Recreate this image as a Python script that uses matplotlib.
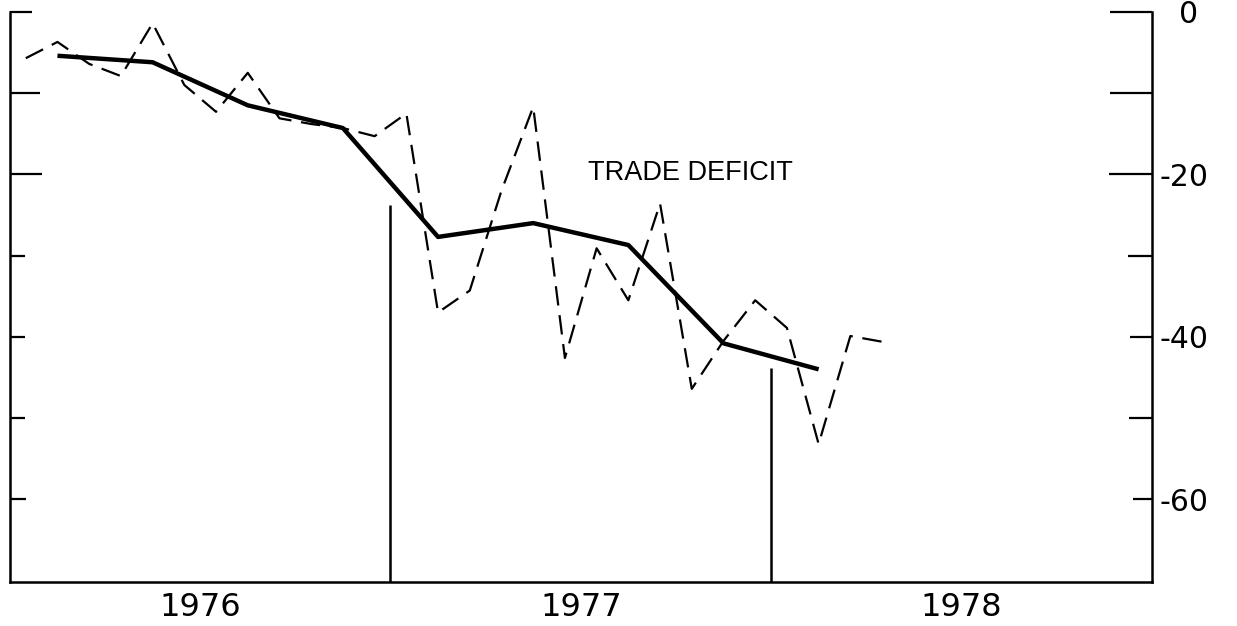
import numpy as np
import matplotlib
matplotlib.use('Agg')
import matplotlib.pyplot as plt

plt.rcParams['font.family'] = ['Liberation Sans', 'DejaVu Sans']
plt.rcParams['lines.scale_dashes'] = False

# monthly trade balance (dashed), Jan 1976 .. Apr 1978, billions
monthly_vals = [-5.7, -3.7, -6.4, -7.9, -1.4, -9.0, -12.3, -7.5, -13.1, -13.8, -14.3, -15.3,
                -12.5, -37.0, -34.3, -22.0, -11.7, -42.6, -29.1, -35.5, -23.6, -46.4, -40.5, -35.5,
                -38.9, -53.2, -39.9, -40.6]
# quarterly average (solid), plotted at mid-quarter month index
quarter_months = [1, 4, 7, 10, 13, 16, 19, 22, 25]
quarter_vals = [-5.4, -6.2, -11.5, -14.3, -27.7, -26.0, -28.7, -40.8, -44.0]

year_labels = ['1976', '1977', '1978']
ytick_vals = [0, -10, -20, -30, -40, -50, -60]
ytick_text = ['  0', '', '-20', '', '-40', '', '-60']

# vertical markers at year boundaries
marker_years = [1977, 1978]
marker_tops = [-23.8, -43.8]

# hand-drawn tick lengths (points), left and right side
left_len = [16, 21.5, 23, 11, 11, 11, 11.5]
right_len = [30, 30, 31, 17, 16, 16.5, 14]

month_x = 1976 + (np.arange(len(monthly_vals)) + 0.5) / 12
quarter_x = 1976 + (np.array(quarter_months) + 0.5) / 12

fig = plt.figure(figsize=(12.37, 6.26), dpi=100)
ax = fig.add_axes([0.008, 0.070, 0.923, 0.911])

ymin = -70.2
ax.plot(month_x, monthly_vals, color='black', lw=1.6, dashes=(14, 7))
ax.plot(quarter_x, quarter_vals, color='black', lw=3.2, solid_capstyle='butt')
ax.vlines(marker_years, ymin, marker_tops, color='black', lw=1.8)

ax.text(1977.52, -19.8, 'TRADE DEFICIT', fontsize=19.5, va='center', ha='left')

ax.set_xlim(1976, 1979)
ax.set_ylim(ymin, 0)

ax.spines['top'].set_visible(False)
for s in ['left', 'right', 'bottom']:
    ax.spines[s].set_linewidth(1.8)

ax.set_yticks(ytick_vals)
ax.set_yticklabels(ytick_text, family='DejaVu Sans')
ax.tick_params(axis='y', direction='in', width=1.6, left=True, right=True,
               labelleft=False, labelright=True, labelsize=21.5, pad=6)
for t, l1, l2 in zip(ax.yaxis.get_major_ticks(), left_len, right_len):
    t.tick1line.set_markersize(l1)
    t.tick2line.set_markersize(l2)

ax.set_xticks([1976.5, 1977.5, 1978.5])
ax.set_xticklabels(year_labels, family='DejaVu Sans')
ax.tick_params(axis='x', length=0, labelsize=23, pad=7)

plt.savefig('out.png', dpi=100)
